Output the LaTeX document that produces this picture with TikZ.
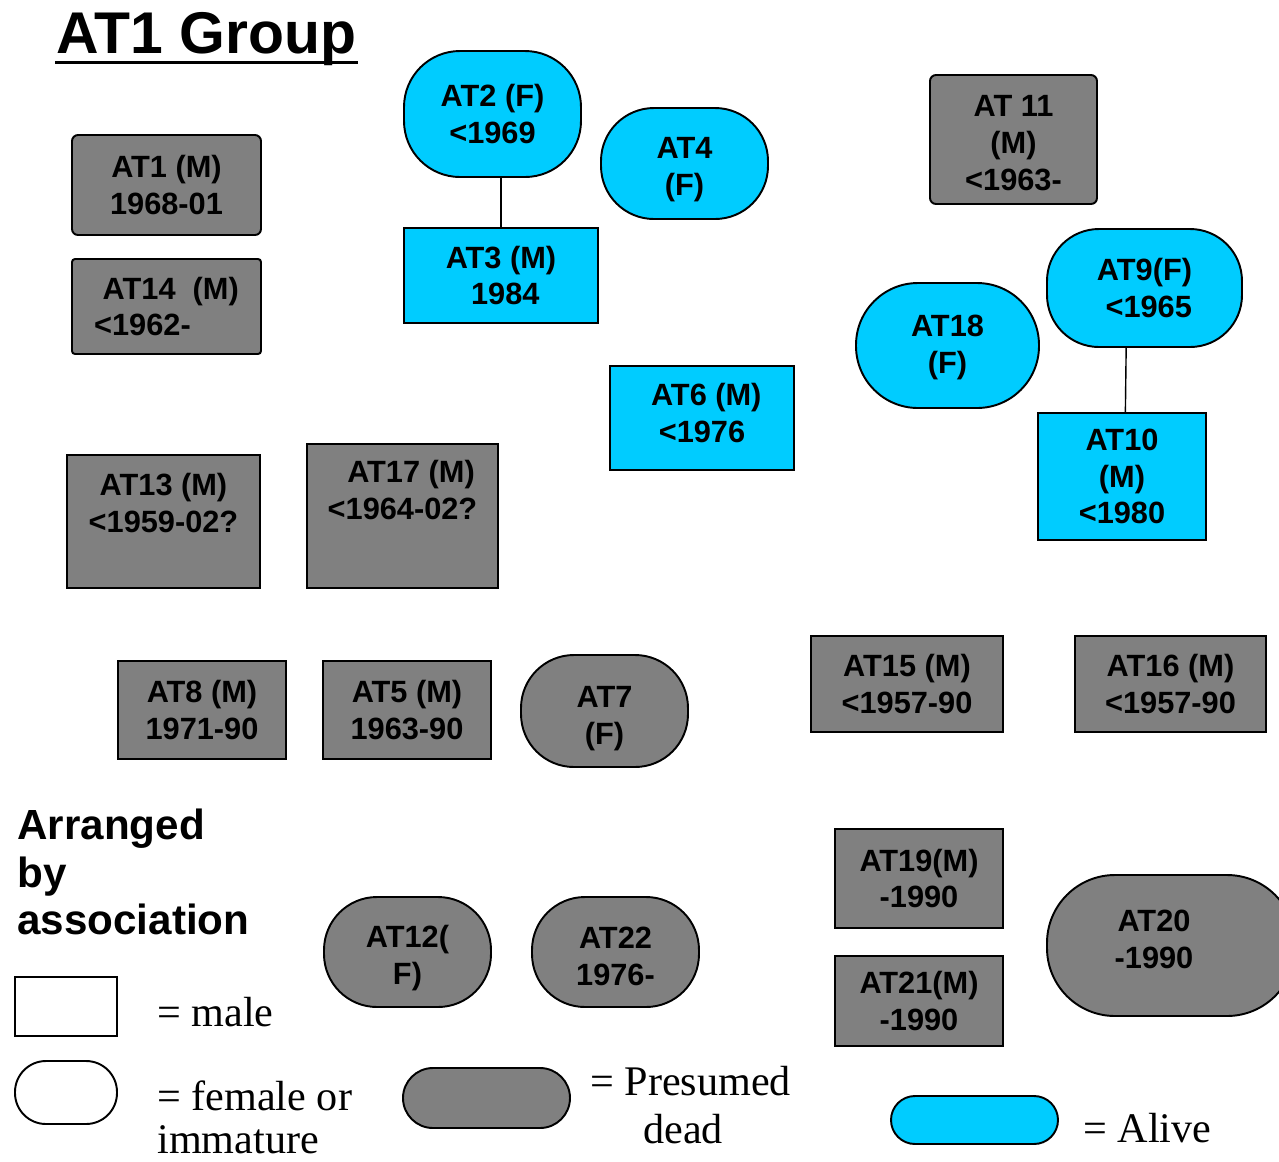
\documentclass[tikz,border=0pt]{standalone}
\usepackage{fontspec}
\setmainfont{Liberation Serif}
\setsansfont{Liberation Sans}
\definecolor{deadgrey}{HTML}{808080}
\definecolor{alivecyan}{HTML}{00CCFF}
\tikzset{
  male/.style={draw, rectangle, line width=1.1pt, inner sep=0pt, align=center},
  malern/.style={male, rounded corners=0.12cm},
  female/.style={draw, rectangle, rounded corners=#1*0.02cm, line width=1.1pt, inner sep=0pt, align=center},
  sz/.style 2 args={minimum width=#1*0.02cm, minimum height=#2*0.02cm},
  dead/.style={fill=deadgrey},
  alive/.style={fill=alivecyan},
  legtext/.style={font=\rmfamily\fontsize{24}{27}\selectfont, anchor=base west, inner sep=0pt},
}
\begin{document}
\begin{tikzpicture}[x=0.02cm, y=-0.02cm, font=\sffamily\bfseries\fontsize{17.5}{21}\selectfont]
  \useasboundingbox (0,0) rectangle (1279,1161);

  % title
  \node[anchor=base west, inner sep=0pt, font=\sffamily\bfseries\fontsize{33.5}{38}\selectfont] (title) at (56,53) {AT1 Group};
  \draw[line width=1.7pt] ([xshift=-0.02cm, yshift=-0.19cm]title.base west) -- ([xshift=0.04cm, yshift=-0.19cm]title.base east);

  % males, presumed dead, upper left
  \node[malern, dead, sz={189}{100}] (AT1) at (166.5,185) {AT1 (M)\\1968-01};
  \node[male, dead, rounded corners=0.06cm, sz={189}{95}, align=left] (AT14) at (166.5,306.5) {~AT14\ \ (M)\\<1962-};
  \node[malern, dead, sz={167}{129}, text height=57.9pt] (AT11) at (1013.5,139.5) {AT 11\\(M)\\<1963-};

  % alive
  \node[female=56, alive, sz={177}{126}] (AT2) at (492.5,114) {AT2 (F)\\<1969};
  \node[male, alive, sz={194}{95}] (AT3) at (501,275.5) {AT3 (M)\\~1984};
  \node[female=53, alive, sz={167}{111}, text height=39.8pt] (AT4) at (684.5,163.5) {AT4\\(F)};
  \node[male, alive, sz={184}{104}, text depth=5.5pt] (AT6) at (702,418) {~AT6 (M)\\<1976};
  \node[female=62, alive, sz={183}{125}, text height=35.8pt] (AT18) at (947.5,345.5) {AT18\\(F)};
  \node[female=52, alive, sz={195}{118}] (AT9) at (1144.5,288) {AT9(F)\\~<1965};
  \node[male, alive, sz={168}{127}] (AT10) at (1122,476.5) {AT10\\(M)\\<1980};

  \draw[line width=0.8pt] (AT3.north) -- (AT3.north |- AT2.south);
  \draw[line width=0.8pt] (AT9.253) -- (AT10.87);

  % presumed dead
  \node[male, dead, sz={193}{133}] (AT13) at (163.5,521.5) {AT13 (M)\\<1959-02?\\\mbox{}};
  \node[male, dead, sz={191}{144}, text depth=9pt] (AT17) at (402.5,516) {~~AT17 (M)\\<1964-02?\\\mbox{}};
  \node[male, dead, sz={168}{98}] (AT8) at (202,710) {AT8 (M)\\1971-90};
  \node[male, dead, sz={168}{98}] (AT5) at (407,710) {AT5 (M)\\1963-90};
  \node[female=53, dead, sz={167}{112}, text height=41.5pt] (AT7) at (604.5,711) {AT7\\(F)};
  \node[male, dead, sz={192}{96}] (AT15) at (907,684) {AT15 (M)\\<1957-90};
  \node[male, dead, sz={191}{96}] (AT16) at (1170.5,684) {AT16 (M)\\<1957-90};
  \node[female=53, dead, sz={167}{110}, text height=40.4pt] (AT12) at (407.5,952) {AT12(\\F)};
  \node[female=53, dead, sz={167}{110}, text height=38.7pt] (AT22) at (615.5,952) {AT22\\1976-};
  \node[male, dead, sz={168}{99}] (AT19) at (919,878.5) {AT19(M)\\-1990};
  \node[male, dead, sz={168}{90}] (AT21) at (919,1001) {AT21(M)\\-1990};
  \node[female=68, dead, sz={248}{141},
        label={[name=AT20txt, align=center, xshift=-0.34cm, yshift=0.12cm]center:AT20\\-1990}] (AT20) at (1171,945.5) {};

  % legend
  \node[anchor=north west, inner sep=0pt, align=left, font=\sffamily\bfseries\fontsize{24}{27}\selectfont] (arranged) at (17,809) {Arranged\\by\\association};
  \node[male, fill=white, sz={102}{59}] (legmale) at (66,1006.5) {};
  \node[female=31, fill=white, sz={102}{63}] (legfemale) at (66,1092.5) {};
  \node[female=30, dead, sz={167}{60}] (legdead) at (486.5,1098) {};
  \node[female=24, alive, sz={167}{48}] (legalive) at (974.5,1120) {};
  \node[legtext] (txtmale) at (157,1026) {= male};
  \node[legtext] (txtfemale) at (157,1110) {= female or};
  \node[legtext] (txtimmature) at (157,1153) {immature};
  \node[legtext] (txtdead) at (590,1095) {= Presumed};
  \node[legtext] (txtdeadb) at (643,1143) {dead};
  \node[legtext] (txtalive) at (1083,1142) {= Alive};
\end{tikzpicture}
\end{document}
